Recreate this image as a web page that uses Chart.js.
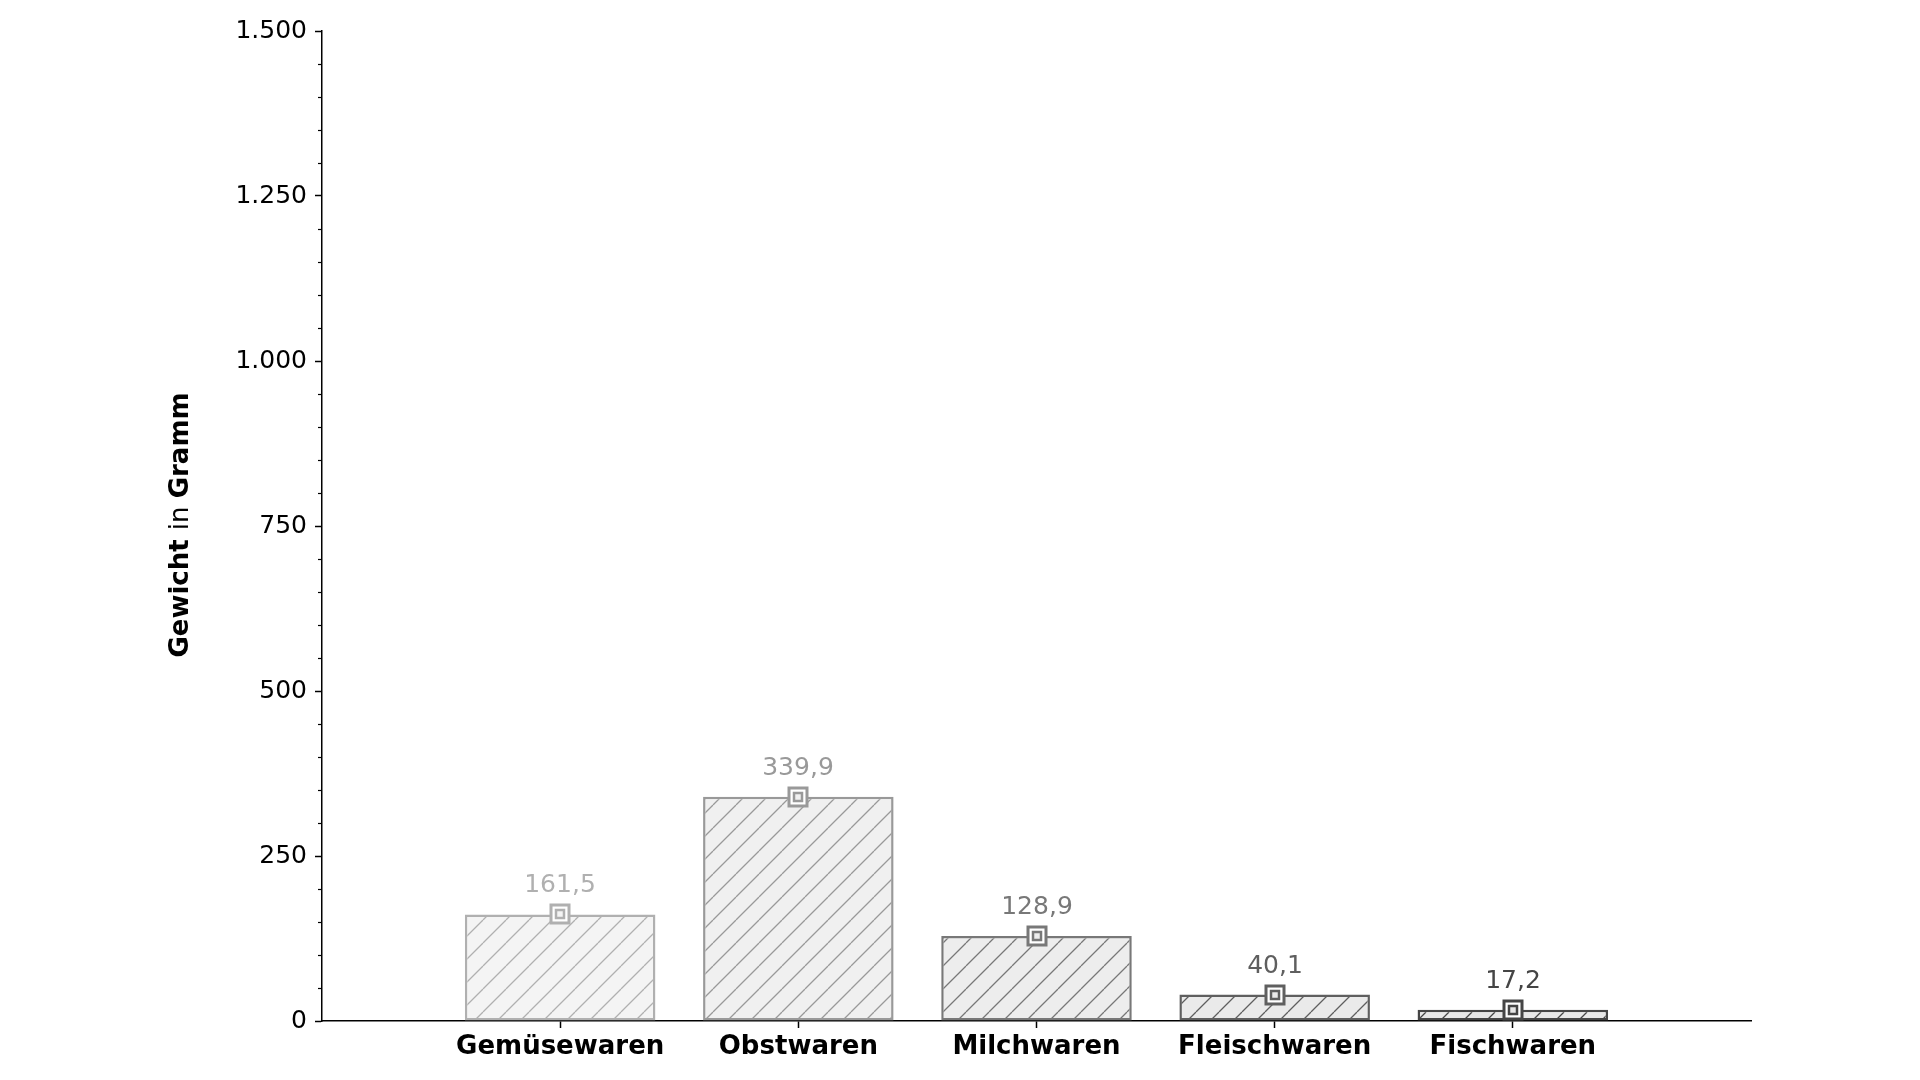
<!DOCTYPE html>
<html>
<head>
    <meta charset="utf-8">
    <title>Gewicht in Gramm</title>
    <style>
        html, body { margin: 0; padding: 0; background: #fff; }
        #wrap { width: 1920px; height: 1080px; }
    </style>
</head>
<body>
    <div id="wrap"><canvas id="chart" width="1920" height="1080"></canvas></div>
    <script src="https://cdn.jsdelivr.net/npm/chart.js"></script>
    <script>
        const categories = ["Gemüsewaren", "Obstwaren", "Milchwaren", "Fleischwaren", "Fischwaren"];
        const values = [161.5, 339.9, 128.9, 40.1, 17.2];
        const yTicks = [0, 250, 500, 750, 1000, 1250, 1500];
        const edgeColors = ["#b0b0b0", "#999999", "#787878", "#5f5f5f", "#454545"];
        const fillColors = ["#f4f4f4", "#f0f0f0", "#ededed", "#eaeaea", "#e7e7e7"];

        const FONT = "'DejaVu Sans', sans-serif";

        // diagonal "/" hatch as a canvas pattern
        function hatch(bg, line) {
            const s = 23;
            const c = document.createElement("canvas");
            c.width = s; c.height = s;
            const g = c.getContext("2d");
            g.fillStyle = bg;
            g.fillRect(0, 0, s, s);
            g.strokeStyle = line;
            g.lineWidth = 1.3;
            g.beginPath();
            for (let k = -1; k <= 1; k++) {
                g.moveTo(k * s, s);
                g.lineTo(k * s + s, 0);
            }
            g.stroke();
            return g.createPattern(c, "repeat");
        }

        function fmtDe(v, dec) {
            let s = v.toFixed(dec);
            let [a, b] = s.split(".");
            a = a.replace(/\B(?=(\d{3})+(?!\d))/g, ".");
            return b ? a + "," + b : a;
        }

        // pad one empty slot each side so the axis runs from -1 to 5
        const labels = ["", ...categories, ""];
        const data = [null, ...values, null];
        const pad = arr => ["transparent", ...arr, "transparent"];

        const extras = {
            id: "extras",
            afterDraw(chart) {
                const ctx = chart.ctx;
                const y = chart.scales.y;
                const area = chart.chartArea;
                ctx.save();
                // minor ticks every 50
                ctx.strokeStyle = "#000";
                ctx.lineWidth = 1.2;
                for (let v = 50; v < 1500; v += 50) {
                    if (v % 250 === 0) continue;
                    const py = Math.round(y.getPixelForValue(v)) + 0.5;
                    ctx.beginPath();
                    ctx.moveTo(area.left - 4, py);
                    ctx.lineTo(area.left, py);
                    ctx.stroke();
                }
                // markers and value labels
                const meta = chart.getDatasetMeta(0);
                meta.data.forEach((bar, i) => {
                    const v = data[i];
                    if (v === null) return;
                    const col = edgeColors[i - 1];
                    const cx = Math.round(bar.x), cy = Math.round(y.getPixelForValue(v));
                    ctx.fillStyle = "#fff";
                    ctx.fillRect(cx - 10, cy - 10, 20, 20);
                    ctx.strokeStyle = col;
                    ctx.lineWidth = 3;
                    ctx.strokeRect(cx - 9, cy - 9, 18, 18);
                    ctx.fillStyle = fillColors[i - 1];
                    ctx.lineWidth = 2.5;
                    ctx.fillRect(cx - 4, cy - 4, 8, 8);
                    ctx.strokeRect(cx - 4, cy - 4, 8, 8);
                    ctx.fillStyle = col;
                    ctx.font = "25px " + FONT;
                    ctx.textAlign = "center";
                    ctx.textBaseline = "alphabetic";
                    ctx.fillText(fmtDe(v, 1), cx, cy - 22);
                });
                // y axis title with mixed weights
                const parts = [["bold", "Gewicht "], ["normal", "in "], ["bold", "Gramm"]];
                let total = 0;
                parts.forEach(p => { ctx.font = p[0] + " 26px " + FONT; total += ctx.measureText(p[1]).width; });
                ctx.translate(181, 525);
                ctx.rotate(-Math.PI / 2);
                ctx.textAlign = "left";
                ctx.textBaseline = "middle";
                ctx.fillStyle = "#000";
                let x = -total / 2;
                parts.forEach(p => {
                    ctx.font = p[0] + " 26px " + FONT;
                    ctx.fillText(p[1], x, 0);
                    x += ctx.measureText(p[1]).width;
                });
                ctx.restore();
            }
        };

        new Chart(document.getElementById("chart"), {
            type: "bar",
            data: {
                labels: labels,
                datasets: [{
                    data: data,
                    backgroundColor: pad(fillColors.map((f, i) => hatch(f, edgeColors[i]))),
                    borderColor: pad(edgeColors),
                    borderWidth: 2.5,
                    borderSkipped: false,
                    categoryPercentage: 1,
                    barPercentage: 0.8
                }]
            },
            options: {
                responsive: false,
                animation: false,
                layout: { padding: { left: 0, right: 169, top: 31, bottom: 0 } },
                plugins: { legend: { display: false }, tooltip: { enabled: false } },
                scales: {
                    x: {
                        offset: false,
                        grid: {
                            offset: false,
                            drawOnChartArea: false,
                            tickLength: 7,
                            tickWidth: 1.5,
                            tickColor: c => (c.index === 0 || c.index === labels.length - 1) ? "rgba(0,0,0,0)" : "#000"
                        },
                        border: { color: "#000", width: 1.5 },
                        ticks: {
                            color: "#000",
                            font: { family: FONT, size: 26, weight: "bold" },
                            padding: 4,
                            maxRotation: 0,
                            autoSkip: false
                        },
                        afterFit: s => { s.height = 59; }
                    },
                    y: {
                        min: 0,
                        max: 1500,
                        afterBuildTicks: s => { s.ticks = yTicks.map(v => ({ value: v })); },
                        grid: { drawOnChartArea: false, tickLength: 7, tickWidth: 1.5, tickColor: "#000" },
                        border: { color: "#000", width: 1.5 },
                        ticks: {
                            color: "#000",
                            font: { family: FONT, size: 25 },
                            padding: 8,
                            callback: v => fmtDe(v, 0)
                        },
                        afterFit: s => { s.width = 322; }
                    }
                }
            },
            plugins: [extras]
        });
    </script>
</body>
</html>
